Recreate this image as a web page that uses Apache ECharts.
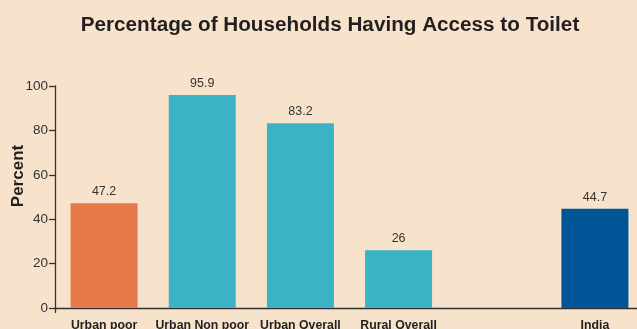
<!DOCTYPE html>
<html>
<head>
<meta charset="utf-8">
<script src="https://cdn.jsdelivr.net/npm/echarts@6/dist/echarts.min.js"></script>
<style>html,body{margin:0;padding:0;background:#f7e3cb;}#c{width:637px;height:329px;}</style>
</head>
<body>
<div id="c"></div>
<script>
const categories = ['Urban poor', 'Urban Non poor', 'Urban Overall', 'Rural Overall', '', 'India'];
const values = [47.2, 95.9, 83.2, 26, null, 44.7];
const barColors = ['#e8794a', '#3bb3c4', '#3bb3c4', '#3bb3c4', '#3bb3c4', '#005596'];
const yTicks = [0, 20, 40, 60, 80, 100];

const chart = echarts.init(document.getElementById('c'));
chart.setOption({
  backgroundColor: '#f7e3cb',
  animation: false,
  textStyle: { fontFamily: 'Liberation Sans, Arial, sans-serif' },
  title: {
    text: 'Percentage of Households Having Access to Toilet',
    left: 325, textAlign: 'center', top: 10,
    textStyle: { fontSize: 20.7, fontWeight: 'bold', color: '#231f20', fontFamily: 'Liberation Sans, Arial, sans-serif' }
  },
  grid: { left: 55, top: 86, width: 589, height: 222, containLabel: false, outerBoundsMode: 'none' },
  xAxis: {
    type: 'category',
    data: categories,
    axisLine: { lineStyle: { color: '#333', width: 1.3 } },
    axisTick: { show: true, length: 5, interval: function (i) { return i === 0; }, lineStyle: { color: '#333', width: 1.3 } },
    axisLabel: { color: '#231f20', fontSize: 12.3, fontWeight: 'bold', margin: 12, interval: 0 }
  },
  yAxis: {
    type: 'value', min: yTicks[0], max: yTicks[yTicks.length - 1], interval: 20,
    name: 'Percent', nameLocation: 'middle', nameGap: 28, nameMoveOverlap: false,
    nameTextStyle: { fontSize: 17, fontWeight: 'bold', color: '#231f20', padding: [0, 0, 0, 42] },
    axisLine: { show: true, lineStyle: { color: '#333', width: 1.3 } },
    axisTick: { show: true, length: 6, lineStyle: { color: '#333', width: 1.3 } },
    axisLabel: { color: '#333', fontSize: 13.5, margin: 7 },
    splitLine: { show: false }
  },
  series: [{
    type: 'bar',
    barWidth: 67,
    data: values.map((v, i) => ({ value: v, itemStyle: { color: barColors[i] } })),
    label: { show: true, position: 'top', distance: 5, color: '#333', fontSize: 12.5 }
  }]
});
</script>
</body>
</html>
